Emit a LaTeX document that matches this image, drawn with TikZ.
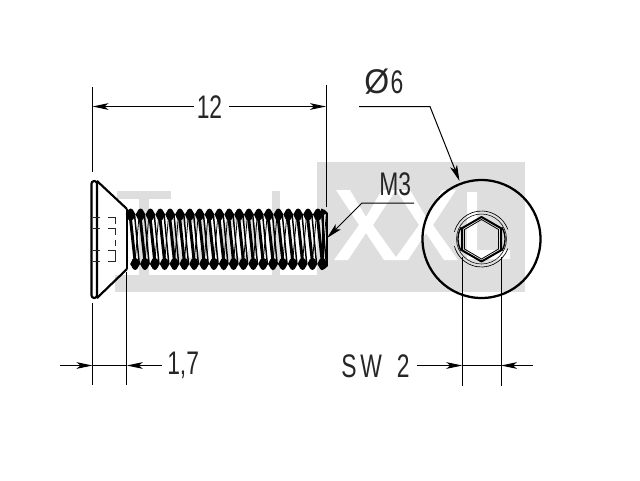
\documentclass[tikz,border=0pt]{standalone}
\usepackage{fontspec}
\usetikzlibrary{arrows.meta}
\newfontfamily\dimfont[FakeStretch=0.7]{Liberation Sans}
\definecolor{wm}{HTML}{DEDEDE}
\tikzset{
  x=0.75pt,y=-0.75pt,
  thick line/.style={line width=1.6pt,black,line join=round},
  thin line/.style={line width=0.75pt,black},
  hair line/.style={line width=0.5pt,black!85},
  lead/.style={thin line,-{Stealth[length=12pt,width=5.5pt,inset=3pt]}},
  tipin/.style={thin line,-{Stealth[length=12pt,width=5pt,inset=3pt]}},
  label/.style={font=\dimfont\fontsize{24.5pt}{26pt}\selectfont,inner sep=0pt,text=black!85},
  wmfill/.style={fill=wm,draw=none},
  whitefill/.style={fill=white,draw=none}
}
\begin{document}
\begin{tikzpicture}
\useasboundingbox (0,0) rectangle (640,480);
% watermark
\fill[wmfill] (317,162) rectangle (525,292);
\fill[wmfill] (115,275) rectangle (317,292);
\fill[wmfill] (117,191) rectangle (171,199);
\fill[wmfill] (139,199) rectangle (149,275);
\fill[wmfill] (272,191) rectangle (280,275);
\draw[wm,line width=6.5pt] (190,240) ellipse (16 and 22);
\draw[wm,line width=6.5pt] (240,240) ellipse (15 and 22);
% white XXL
\fill[whitefill] (336,190)--(350,190)--(366,217)--(382,190)--(396,190)--(373,225)--(398,260)--(384,260)--(366,233)--(348,260)--(334,260)--(359,225)--cycle;
\fill[whitefill] (396,190)--(410,190)--(426,217)--(442,190)--(456,190)--(433,225)--(458,260)--(444,260)--(426,233)--(408,260)--(394,260)--(419,225)--cycle;
\fill[whitefill] (467,192)--(477,192)--(477,250)--(510,250)--(510,259)--(467,259)--cycle;
% screw head
\draw[thick line,rounded corners=2pt] (91.5,181) rectangle (97,298);
\draw[thick line] (97,181)--(127,209);
\draw[thick line] (97,298)--(127,269);
\draw[thick line] (127,209)--(127,269);
% socket hidden lines
\foreach \yy in {217,228,250,261}{
  \draw[hair line] (93,\yy)--(100,\yy);
  \draw[hair line] (108,\yy)--(115.5,\yy);
}
\draw[hair line] (115.5,217)--(115.5,224);
\draw[hair line] (115.5,228)--(115.5,235);
\draw[hair line] (115.5,240)--(115.5,246);
\draw[hair line] (115.5,250)--(115.5,261);
% thread
\foreach \i in {0,...,19}{
  \pgfmathsetmacro{\xb}{130.7+9.85*\i}
  % top lobe
  \fill (\xb,208.5)--(\xb+2,209.5)--(\xb+4.9,214.5)--(\xb+2.5,219.5)--(\xb,220.5)--(\xb-2.5,219.5)--(\xb-4.9,214.5)--(\xb-2,209.5)--cycle;
  % bottom lobe
  \fill (\xb+4.4,270)--(\xb+6.4,269)--(\xb+9.3,264)--(\xb+6.9,259)--(\xb+4.4,258)--(\xb+1.9,259)--(\xb-0.5,264)--(\xb+2.4,269)--cycle;
  % thread flanks
  \draw[line width=2.2pt] (\xb-0.5,216)--(\xb+4.4,262);
  \draw[line width=1.1pt] (\xb+3.8,214)--(\xb+8.6,264);
  \draw[line width=0.6pt] (\xb+4.4,262)--(\xb+8.5,214);
}
\draw[line width=2.2pt] (323,210)--(323,268.5);
\draw[thick line] (326.8,213)--(326.8,266);
\fill (321,208.5)--(325,210)--(328,213)--(321,216)--cycle;
\fill (321,270)--(325,268.5)--(328,266)--(321,262)--cycle;
% dimension 12
\coordinate (e1a) at (92.5,87); \coordinate (e1b) at (92.5,172);
\coordinate (e2a) at (326,85); \coordinate (e2b) at (326,207);
\draw[thin line] (e1a)--(e1b);
\draw[thin line] (e2a)--(e2b);
\node[label,anchor=base] (l12) at (209.5,118) {12};
\coordinate (d1a) at (92.5,106.5); \coordinate (d1b) at (326,106.5);
\draw[tipin] (194,106.5)--(d1a);
\draw[tipin] (229,106.5)--(d1b);
% dimension 1,7
\draw[thin line] (92.5,303)--(92.5,385);
\draw[thin line] (126.8,272)--(126.8,385);
\draw[thin line] (92.5,365.5)--(126.8,365.5);
\draw[tipin] (60,365.5)--(92.5,365.5);
\draw[tipin] (162,365.5)--(126.8,365.5);
\node[label,anchor=base west] (l17) at (167,374) {1,7};
% dimension SW 2
\draw[thin line] (462.3,257)--(462.3,386);
\draw[thin line] (501,257)--(501,386);
\draw[thin line] (462.3,365.5)--(501,365.5);
\draw[tipin] (417,365.5)--(462.3,365.5);
\draw[tipin] (533,365.5)--(501,365.5);
\node[label,anchor=base west] (lsw) at (341,377) {S\kern3pt W\kern11pt 2};
% M3
\node[label,anchor=base west] (lm3) at (379,195) {M3};
\draw[lead] (414,203)--(362,203)--(327,238);
% diameter
\node[label,anchor=base west] (ld) at (364,93) {\scalebox{1.4}[1.05]{Ø}\kern1pt 6};
\draw[lead] (359,106.5)--(430,106.5)--(459.5,181);
% end view
\draw[line width=1.7pt] (481.5,239) circle (59);
\draw[line width=1.5pt,line join=round] (481.5,217)--(501,228.2)--(501,250.3)--(481.5,261.5)--(462,250.3)--(462,228.2)--cycle;
\draw[line width=0.6pt] (481.5,219.5)--(498.5,229.5)--(498.5,249)--(481.5,259)--(464.5,249)--(464.5,229.5)--cycle;
\draw[line width=0.5pt] (481.5,239) ++(20:28) arc (20:165:28);
\draw[line width=0.5pt] (481.5,239) ++(195:28) arc (195:340:28);
\draw[line width=0.4pt] (481.5,239) circle (25);
\draw[line width=1pt] (481.5,239) ++(150:23.5) arc (150:210:23.5);
\draw[line width=1pt] (481.5,239) ++(-30:23.5) arc (-30:30:23.5);
\end{tikzpicture}
\end{document}
